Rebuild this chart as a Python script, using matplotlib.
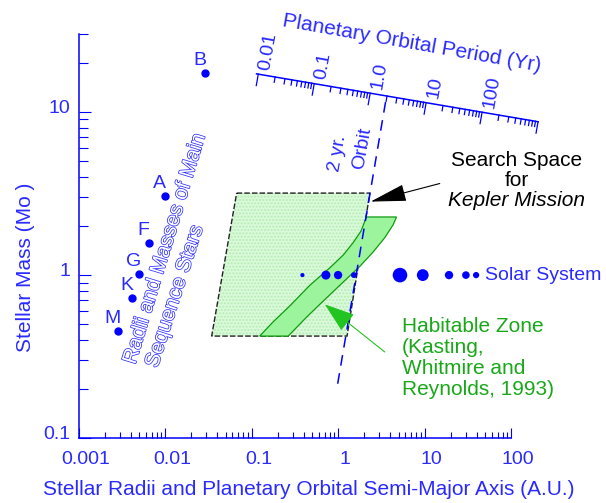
import numpy as np
import matplotlib
matplotlib.use("Agg")
import matplotlib.pyplot as plt
from matplotlib.patches import Polygon
from matplotlib.ticker import FixedLocator, FixedFormatter, LogLocator, NullFormatter
from matplotlib.transforms import ScaledTranslation
from matplotlib import patheffects

plt.rcParams['font.family'] = ['Liberation Sans', 'DejaVu Sans']

BLUE = '#0000ff'
TEXT_BLUE = '#2a2aff'
GREEN_TEXT = '#18a818'

# ---- data -------------------------------------------------------------
# main-sequence stars: radius (AU) and mass (solar masses)
star_types = ['B', 'A', 'F', 'G', 'K', 'M']
star_radius_au = [0.0289, 0.00995, 0.0065, 0.00502, 0.00417, 0.00287]
star_mass = [17.2, 3.07, 1.57, 1.01, 0.724, 0.453]

# solar-system planets: semi-major axis (AU), host mass (solar masses)
planet_names = ['Mercury', 'Venus', 'Earth', 'Mars', 'Jupiter',
                'Saturn', 'Uranus', 'Neptune', 'Pluto']
planet_axis_au = [0.387, 0.723, 1.0, 1.524, 5.20, 9.54, 19.2, 30.1, 39.5]
planet_host_mass = [1.0, 1.0, 1.0, 1.0, 1.0, 1.0, 1.0, 1.0, 1.0]
planet_dot_size = [3.0, 6.5, 6.0, 4.2, 10.5, 8.5, 6.0, 5.5, 4.5]

# Kepler search space (corners, AU / solar masses)
search_a = [0.0671, 2.33, 1.27, 0.0345]
search_m = [3.18, 3.18, 0.423, 0.423]

# habitable zone (Kasting, Whitmire & Reynolds 1993)
hz_inner_a = [2.13, 1.84, 1.50, 1.146, 0.804, 0.471, 0.277, 0.178, 0.124]
hz_inner_m = [2.27, 1.86, 1.585, 1.326, 1.109, 0.866, 0.648, 0.518, 0.423]
hz_outer_a = [0.265, 0.433, 0.673, 1.146, 1.79, 2.55, 3.47, 4.33, 4.74]
hz_outer_m = [0.423, 0.553, 0.693, 0.906, 1.133, 1.387, 1.696, 2.03, 2.27]

# 2-year orbit line
orbit2_a = [0.99, 3.61]
orbit2_m = [0.216, 12.2]

# planetary orbital period scale (yr), drawn as a tilted axis
period_axis_a = [0.114, 206.0]
period_axis_m = [17.1, 8.7]
period_major = [0.01, 0.1, 1.0, 10.0, 100.0, 1000.0]
period_labels = ['0.01', '0.1', '1.0', '10', '100', '']

x_tick_values = [0.001, 0.01, 0.1, 1, 10, 100]
x_tick_labels = ['0.001', '0.01', '0.1', '1', '10', '100']
y_tick_values = [0.1, 1, 10]
y_tick_labels = ['0.1', '1', '10']

# ---- figure -----------------------------------------------------------
fig = plt.figure(figsize=(6.06, 5.03), dpi=100)
fig.patch.set_facecolor('white')
ax = fig.add_axes([0.1299, 0.1286, 0.7133, 0.8038])
ax.set_xscale('log')
ax.set_yscale('log')
ax.set_xlim(0.001, 100)
ax.set_ylim(0.1, 30)

for s in ['top', 'right']:
    ax.spines[s].set_visible(False)
for s in ['left', 'bottom']:
    ax.spines[s].set_color(BLUE)
    ax.spines[s].set_linewidth(1.1)

ax.xaxis.set_major_locator(FixedLocator(x_tick_values))
ax.xaxis.set_major_formatter(FixedFormatter(x_tick_labels))
ax.xaxis.set_minor_locator(LogLocator(base=10, subs=np.arange(2, 10), numticks=20))
ax.xaxis.set_minor_formatter(NullFormatter())
ax.yaxis.set_major_locator(FixedLocator(y_tick_values))
ax.yaxis.set_major_formatter(FixedFormatter(y_tick_labels))
ax.yaxis.set_minor_locator(LogLocator(base=10, subs=np.arange(2, 10), numticks=20))
ax.yaxis.set_minor_formatter(NullFormatter())

ax.tick_params(axis='x', which='major', direction='in', length=7, width=0.8,
               color=BLUE, labelcolor=TEXT_BLUE, labelsize=14, pad=9)
ax.tick_params(axis='x', which='minor', direction='in', length=4, width=0.8, color=BLUE)
ax.tick_params(axis='y', which='major', direction='in', length=8.5, width=0.8,
               color=BLUE, labelcolor=TEXT_BLUE, labelsize=14, pad=6)
ax.tick_params(axis='y', which='minor', direction='in', length=6.5, width=0.8, color=BLUE)

shift_x = ScaledTranslation(5 / 72, 0, fig.dpi_scale_trans)
for lbl in ax.xaxis.get_majorticklabels():
    lbl.set_transform(lbl.get_transform() + shift_x)
shift_y = ScaledTranslation(0, 4 / 72, fig.dpi_scale_trans)
for lbl in ax.yaxis.get_majorticklabels():
    lbl.set_transform(lbl.get_transform() + shift_y)

ax.set_xlabel('Stellar Radii and Planetary Orbital Semi-Major Axis (A.U.)',
              fontsize=15, color=TEXT_BLUE)
ax.xaxis.label.set_va('center')
ax.xaxis.set_label_coords(0.532, -0.127)
ax.set_ylabel('Stellar Mass (Mo )', fontsize=15, color=TEXT_BLUE)
ax.yaxis.label.set_va('center')
ax.yaxis.set_label_coords(-0.122, 0.424)

# search space for the Kepler mission
ax.add_patch(Polygon(list(zip(search_a, search_m)), closed=True,
                     facecolor='#dafada', edgecolor='#b4ecb4', hatch='.....',
                     linewidth=0, zorder=1))
ax.add_patch(Polygon(list(zip(search_a, search_m)), closed=True, fill=False,
                     edgecolor='#222222', linewidth=1.0, linestyle=(0, (4, 1.5)),
                     zorder=2))

# habitable zone band
hz_pts = list(zip(hz_inner_a, hz_inner_m)) + list(zip(hz_outer_a, hz_outer_m))
ax.add_patch(Polygon(hz_pts, closed=True, facecolor='#9cf59c',
                     edgecolor='#109a10', linewidth=0.9, zorder=3))

# 2-year orbit line
ax.plot(orbit2_a, orbit2_m, color=BLUE, linewidth=1.1,
        linestyle=(0, (7, 5)), zorder=4, clip_on=False)
ax.text(1.0, 5.6, '2 yr.', rotation=80, rotation_mode='anchor',
        ha='center', va='center', fontsize=14, color=TEXT_BLUE)
ax.text(1.9, 6.0, 'Orbit', rotation=80, rotation_mode='anchor',
        ha='center', va='center', fontsize=14, color=TEXT_BLUE)

# main-sequence stars
ax.plot(star_radius_au, star_mass, linestyle='none', marker='o',
        markersize=5, color=BLUE, zorder=5)
for name, r, m in zip(star_types, star_radius_au, star_mass):
    ax.annotate(name, xy=(r, m), xytext=(-4, 9), textcoords='offset points',
                ha='center', va='center', fontsize=14, color=TEXT_BLUE)

outline = [patheffects.withStroke(linewidth=1.1, foreground='#3030ff')]
ax.text(0.00995, 1.457, 'Radii and Masses of Main', rotation=73,
        rotation_mode='anchor', ha='center', va='center', fontsize=15,
        color='white', path_effects=outline)
ax.text(0.01297, 0.744, 'Sequence Stars', rotation=72,
        rotation_mode='anchor', ha='center', va='center', fontsize=15,
        color='white', path_effects=outline)

# solar system
ax.scatter(planet_axis_au, planet_host_mass, s=np.square(planet_dot_size),
           color=BLUE, linewidths=0, zorder=6, clip_on=False)
ax.text(49.8, 1.0, 'Solar System', ha='left', va='center', fontsize=14,
        color=TEXT_BLUE)

# annotation: Kepler search space
ax.annotate('', xy=(2.38, 2.82), xytext=(15.0, 3.64),
            arrowprops=dict(arrowstyle='-|>,head_length=1.9,head_width=0.45',
                            mutation_scale=12, color='black', lw=0.8,
                            shrinkA=0, shrinkB=0),
            annotation_clip=False, zorder=7)
ax.text(116.6, 5.02, 'Search Space', ha='center', va='center', fontsize=15)
ax.text(116.6, 3.78, 'for', ha='center', va='center', fontsize=15)
ax.text(116.6, 2.85, 'Kepler Mission', ha='center', va='center', fontsize=15,
        style='italic')

# annotation: habitable zone
ax.annotate('', xy=(0.703, 0.662), xytext=(3.47, 0.338),
            arrowprops=dict(arrowstyle='-|>,head_length=1.6,head_width=0.55',
                            mutation_scale=12, color='#22c422', lw=0.8,
                            shrinkA=0, shrinkB=0),
            annotation_clip=False, zorder=7)
hz_lines = ['Habitable Zone', '(Kasting,', 'Whitmire and', 'Reynolds, 1993)']
for i, line in enumerate(hz_lines):
    ax.annotate(line, xy=(5.42, 0.484), xytext=(0, -15.2 * i),
                textcoords='offset points', ha='left', va='center',
                fontsize=15, color=GREEN_TEXT, annotation_clip=False)

# tilted orbital-period axis
la = np.log10(period_axis_a)
lm = np.log10(period_axis_m)
f0 = 3 * la[0] - lm[0]
f1 = 3 * la[1] - lm[1]


def period_point(p):
    t = (2 * np.log10(p) - f0) / (f1 - f0)
    return la[0] + t * (la[1] - la[0]), lm[0] + t * (lm[1] - lm[0])


ax.plot(period_axis_a, period_axis_m, color=BLUE, linewidth=1.1, clip_on=False)


def period_tick(p, d):
    x0, y0 = period_point(p)
    ax.plot([10 ** x0, 10 ** (x0 - d / 3)], [10 ** y0, 10 ** (y0 - d)],
            color=BLUE, linewidth=0.9, clip_on=False)
    return x0, y0


for p, lab in zip(period_major, period_labels):
    x0, y0 = period_tick(p, 0.07)
    if lab:
        ax.annotate(lab, xy=(10 ** x0, 10 ** y0), xytext=(5, 3),
                    textcoords='offset points', rotation=80,
                    rotation_mode='anchor', ha='left', va='center',
                    fontsize=14, color=TEXT_BLUE, annotation_clip=False)
for p in period_major[:-1]:
    for k in range(2, 10):
        period_tick(p * k, 0.032)

ax.text(7.13, 26.2, 'Planetary Orbital Period (Yr)', rotation=-10,
        rotation_mode='anchor', ha='center', va='center', fontsize=15,
        color=TEXT_BLUE)

fig.savefig('out.png', dpi=100, facecolor='white')
